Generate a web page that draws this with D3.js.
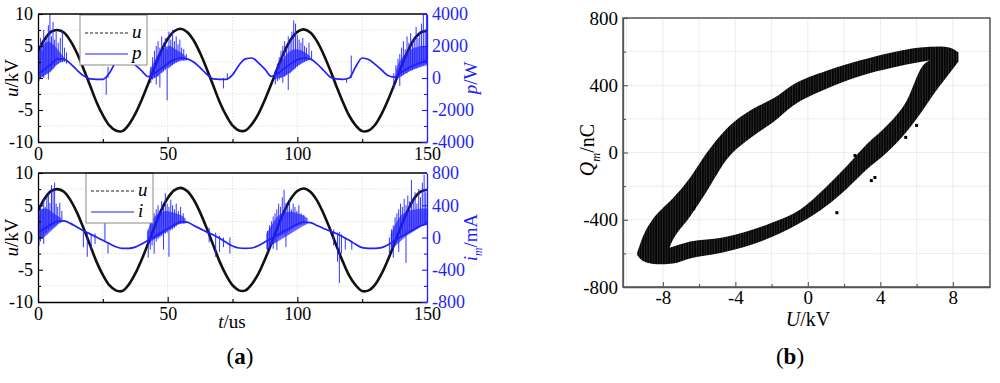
<!DOCTYPE html>
<html>
<head>
<meta charset="utf-8">
<script src="https://cdn.jsdelivr.net/npm/d3@7"></script>
<style>
  body { margin: 0; background: #fff; }
  text { font-family: "Liberation Serif", "Times New Roman", serif; }
</style>
</head>
<body>
<svg id="fig" width="1000" height="383"></svg>
<script>
// ---------- values ----------

// sample times for the traces of panel (a), us
var tSample = [0,2.5,5,7.5,10,12.5,15,17.5,20,22.5,25,27.5,30,32.5,35,37.5,40,42.5,45,47.5,50,52.5,55,57.5,60,62.5,65,67.5,70,72.5,75,77.5,80,82.5,85,87.5,90,92.5,95,97.5,100,102.5,105,107.5,110,112.5,115,117.5,120,122.5,125,127.5,130,132.5,135,137.5,140,142.5,145,147.5,150];

// applied voltage u, kV (same trace in both halves of (a))
var uVolt = [4.1,6.0,7.2,7.5,7.1,5.8,3.9,1.5,-1.1,-3.7,-5.8,-7.4,-8.2,-8.3,-7.3,-5.6,-3.4,-0.9,1.7,
             4.2,6.1,7.3,7.7,7.2,5.9,3.9,1.5,-1.1,-3.7,-5.8,-7.4,-8.2,-8.2,-7.2,-5.6,-3.4,-0.9,1.7,
             4.1,6.0,7.2,7.6,7.1,5.8,3.8,1.4,-1.2,-3.7,-5.9,-7.4,-8.3,-8.2,-7.3,-5.6,-3.4,-0.9,1.7,
             4.1,6.0,7.1,7.4];

// power p, W (smooth part)
var pPower = [250,550,850,1200,1180,900,500,150,-50,-80,-80,300,1000,1250,1100,800,450,80,
              300,600,900,1150,1250,1200,1000,650,250,-50,-80,-80,200,800,1200,1250,950,550,100,
              300,600,900,1150,1250,1200,900,500,80,-60,-80,0,700,1250,1150,850,500,150,50,
              350,600,800,950,1100];

// discharge current i_m, mA (smooth part)
var iCurrent = [60,110,160,200,205,175,130,85,45,5,-35,-75,-115,-135,-135,-120,-80,-35,
                10,60,110,155,195,190,150,110,70,35,-10,-60,-105,-130,-135,-130,-100,-55,-10,
                35,80,125,165,190,185,150,115,80,50,10,-35,-85,-125,-135,-135,-125,-90,-40,
                10,55,100,145,170];

// dense discharge "fuzz" envelopes [t, low, high]; null splits the bursts
var fuzzP = [[0,-100,1500],[1,0,1900],[2,100,2100],[3,200,2200],[4,300,2300],[5,400,2200],[6,600,2100],[7,800,1900],[8,900,1700],[9,1000,1500],[10,1050,1300],
  null,[43,-100,400],[44,-50,800],[45,0,1100],[46,100,1400],[47,250,1600],[48,400,1800],[49,550,1900],[50,650,2000],[51,750,2000],[52,850,1900],[53,950,1800],[54,1050,1700],[55,1100,1600],[56,1100,1500],[57,1100,1350],
  null,[91,-100,300],[92,-50,600],[93,0,900],[94,50,1100],[95,100,1300],[96,200,1500],[97,300,1650],[98,450,1750],[99,600,1800],[100,750,1800],[101,850,1750],[102,950,1700],[103,1050,1600],[104,1100,1500],[105,1150,1350],
  null,[138,-100,500],[139,0,900],[140,100,1200],[141,200,1400],[142,300,1600],[143,400,1700],[144,450,1800],[145,550,1900],[146,600,1900],[147,650,2000],[148,700,2000],[149,750,2000],[150,800,2000]];

var fuzzI = [[0,-40,330],[1,-20,350],[2,0,360],[3,20,360],[4,50,350],[5,80,330],[6,110,300],[7,140,280],[8,170,260],[9,190,240],
  null,[42,-60,60],[43,-50,150],[44,-40,220],[45,-20,260],[46,0,290],[47,20,310],[48,40,320],[49,60,330],[50,80,330],[51,100,320],[52,120,310],[53,140,300],[54,160,290],[55,170,280],[56,175,260],[57,175,230],
  null,[88,-150,50],[90,-100,150],[92,-60,250],[94,-20,300],[96,20,320],[98,60,320],[100,100,300],[102,140,280],[104,170,240],
  null,[136,-150,40],[138,-100,180],[140,-40,280],[142,20,320],[144,60,340],[146,100,350],[148,140,360],[150,160,360]];

// single discharge spikes [t, low end, high end]
var spikesP = [[0.4,-200,1800],[1.0,0,2500],[1.6,100,1700],[2.2,0,3000],[2.8,200,2300],[3.4,300,2700],[4.0,-100,3300],[4.6,400,4000],[5.2,500,2600],[5.8,600,3500],[6.4,700,2400],[7.0,800,2900],[7.8,900,2200],[8.6,1000,2500],[9.4,1000,3000],[10.2,1000,1900],[11.0,900,1600],
  [26.3,-1050,100],[27.0,0,700],
  [43.5,-300,700],[44.2,-100,1300],[44.9,0,1700],[45.6,-400,2000],[46.3,100,2300],[47.0,-600,1900],[47.7,300,2600],[48.4,400,2200],[49.1,500,2500],[49.8,-1400,1800],[50.5,600,2900],[51.2,700,2400],[51.9,800,3000],[52.6,900,2300],[53.3,950,2600],[54.0,1000,2100],[54.7,1050,2400],[55.4,1100,1900],[56.2,1100,1800],[57.2,1100,1500],
  [71.5,-650,0],[73.0,-50,300],
  [91.5,-400,500],[92.3,-200,900],[93.0,-100,1300],[93.7,0,1700],[94.4,-300,2000],[95.1,100,2300],[95.8,200,1900],[96.5,-750,2600],[97.2,300,2400],[97.9,400,2900],[98.6,500,3600],[99.3,600,3400],[100.0,700,2700],[100.7,800,2400],[101.4,900,2200],[102.1,950,2500],[102.8,1000,2000],[103.5,1050,1900],[104.5,1100,2200],[105.5,1100,1700],
  [119.0,-300,0],[120.8,0,1400],
  [137.2,-700,300],[138.0,-300,800],[138.8,0,1200],[139.5,-500,1500],[140.2,100,1900],[140.9,200,2300],[141.6,300,1800],[142.3,300,2600],[143.0,400,2200],[143.7,500,2800],[144.4,500,2400],[145.1,600,2600],[145.8,600,3200],[146.5,700,2500],[147.2,700,2900],[147.9,800,3400],[148.6,800,4000],[149.3,900,3000],[149.8,900,4000]];

var spikesI = [[0.4,-100,300],[1.0,-50,420],[1.6,0,350],[2.2,-80,480],[2.8,50,380],[3.4,60,520],[4.0,80,550],[4.6,100,430],[5.2,110,650],[5.8,130,600],[6.4,140,680],[7.0,150,420],[7.6,170,380],[8.4,180,430],[9.2,190,330],
  [17.5,-120,80],[19.0,-240,60],[20.5,-150,40],[22.0,-80,50],[25.8,-40,180],[27.0,-200,-60],
  [42.5,-250,100],[43.3,-150,200],[44.0,-100,260],[44.8,-200,300],[45.6,-50,350],[46.3,-20,400],[47.0,0,330],[47.7,20,450],[48.4,-150,380],[49.1,50,550],[49.8,60,420],[50.5,-240,380],[51.2,90,470],[51.9,100,400],[52.6,120,350],[53.3,140,420],[54.1,160,330],[55.0,170,380],[56.0,175,300],
  [66.0,-60,120],[68.5,-240,60],[70.0,-180,20],[71.5,-120,0],[74.0,-200,0],
  [88.5,-180,80],[89.3,-160,150],[90.0,-100,200],[90.7,-140,260],[91.4,-60,300],[92.1,-155,350],[92.8,0,420],[93.5,20,380],[94.2,30,500],[94.9,40,590],[95.6,-120,430],[96.3,60,400],[97.0,80,480],[97.7,100,350],[98.4,110,420],[99.1,130,380],[99.8,140,330],[100.6,150,400],[101.5,160,300],[102.5,170,280],
  [114.0,-100,100],[115.5,-300,60],[116.2,-565,70],[117.0,-200,40],[118.5,-150,0],[121.0,-150,-40],
  [135.5,-200,0],[136.3,-120,100],[137.0,-250,150],[137.7,-80,250],[138.4,-50,300],[139.1,-180,350],[139.8,0,420],[140.5,20,380],[141.2,40,480],[141.9,-315,400],[142.6,60,520],[143.3,80,450],[144.0,90,715],[144.7,100,480],[145.4,110,560],[146.1,120,420],[146.8,130,600],[147.5,140,500],[148.2,150,680],[148.9,160,775],[149.5,160,560]];

// panel (a) axis ticks
var tTicks = [0, 50, 100, 150];
var tMinor = [25, 75, 125];
var uTicks = [-10, -5, 0, 5, 10];
var uMinor = [-7.5, -2.5, 2.5, 7.5];
var pTicks = [-4000, -2000, 0, 2000, 4000];
var pMinor = [-3000, -1000, 1000, 3000];
var iTicks = [-800, -400, 0, 400, 800];
var iMinor = [-600, -200, 200, 600];

// panel (b): Q-U loop bands, [U kV, Q upper edge nC, Q lower edge nC]
var loopUpU   = [-9.4, -9.1, -8.55, -8.0, -7.45, -6.5, -5.6, -4.5, -3.0, -1.9, -0.8, 1.0, 2.9, 4.7, 6.2, 7.3, 7.8, 8.3];
var loopUpTop = [-590, -500, -395, -330, -272, -150, -5, 140, 262, 322, 405, 485, 548, 597, 625, 630, 625, 597];
var loopUpBot = [-612, -645, -660, -645, -520, -380, -235, -45, 100, 182, 280, 378, 455, 505, 538, 555, 550, 540];
var loopDnU   = [-9.4, -9.1, -8.3, -7.45, -6.5, -4.7, -1.93, -0.44, 1.05, 2.15, 3.26, 4.36, 5.46, 6.3, 6.9, 7.67, 8.3];
var loopDnTop = [-590, -560, -580, -560, -530, -505, -415, -340, -200, -80, 50, 160, 310, 510, 560, 600, 595];
var loopDnBot = [-610, -640, -665, -660, -630, -595, -500, -420, -315, -215, -100, 0, 125, 245, 340, 450, 540];
// stray points
var strayU = [-6.3, 2.6, 3.7, 1.6, 6.0, 5.4, 3.5];
var strayQ = [-334, -18, -149, -358, 161, 90, -167];
var uBTicks = [-8, -4, 0, 4, 8];
var uBMinor = [-6, -2, 2, 6];
var qTicks = [-800, -400, 0, 400, 800];
var qMinor = [-600, -200, 200, 600];
var uBGrid = [-10, -8, -6, -4, -2, 0, 2, 4, 6, 8, 10];
var qGrid = [-800, -600, -400, -200, 0, 200, 400, 600, 800];

// ---------- drawing ----------
var svg = d3.select("#fig");
var BLUE = "#1f1fff";
var SERIF = '"Liberation Serif","Times New Roman",serif';
var defs = svg.append("defs");

// vertical stripes like the dense scatter bars of (b)
var pat = defs.append("pattern").attr("id", "stripes")
  .attr("patternUnits", "userSpaceOnUse").attr("width", 2.6).attr("height", 10);
pat.append("rect").attr("width", 2.6).attr("height", 10).attr("fill", "#050505");
pat.append("rect").attr("x", 1.9).attr("width", 0.5).attr("height", 10).attr("fill", "#4a4a4a");

function fmt(d) { return String(d); }

function label(x, y, rot, size, parts, color, anchor) {
  var t = svg.append("text")
    .attr("transform", "translate(" + x + "," + y + ")" + (rot ? " rotate(" + rot + ")" : ""))
    .attr("text-anchor", anchor || "middle")
    .attr("font-size", size)
    .attr("fill", color || "#000");
  parts.forEach(function(p) {
    var s = t.append("tspan").text(p.t);
    if (p.i) s.attr("font-style", "italic");
    if (p.b) s.attr("font-weight", "bold");
    if (p.sub) s.attr("font-size", size * 0.62).attr("dy", size * 0.28);
    if (p.back) s.attr("dy", -size * 0.28);
  });
  return t;
}

function styleAxis(a, size, color) {
  a.attr("font-size", size).attr("font-family", SERIF);
  a.selectAll("path.domain").attr("stroke", color).attr("stroke-width", 1.3);
  a.selectAll(".tick line").attr("stroke", color).attr("stroke-width", 1.1);
  a.selectAll(".tick text").attr("fill", color);
}

var xA = d3.scaleLinear().domain([0, 150]).range([38, 427]);

function panelA(cfg) {
  var yL = d3.scaleLinear().domain([-10, 10]).range([cfg.bottom, cfg.top]);
  var yR = d3.scaleLinear().domain(cfg.rDomain).range([cfg.bottom, cfg.top]);
  var g = svg.append("g");

  defs.append("clipPath").attr("id", cfg.id).append("rect")
    .attr("x", xA(0)).attr("y", cfg.top)
    .attr("width", xA(150) - xA(0)).attr("height", cfg.bottom - cfg.top);

  // faint dotted grid
  var grid = g.append("g").attr("stroke", "#cfe6cf").attr("stroke-width", 0.8).attr("stroke-dasharray", "1.5,1.5");
  grid.selectAll("line.v").data(tMinor.concat([50, 100])).join("line").attr("class", "v")
    .attr("x1", d => xA(d)).attr("x2", d => xA(d)).attr("y1", cfg.top).attr("y2", cfg.bottom);
  grid.selectAll("line.h").data(uMinor).join("line").attr("class", "h")
    .attr("x1", xA(0)).attr("x2", xA(150)).attr("y1", d => yL(d)).attr("y2", d => yL(d));

  var plot = g.append("g").attr("clip-path", "url(#" + cfg.id + ")");

  // voltage trace
  plot.append("path")
    .datum(tSample.map((t, k) => [t, uVolt[k]]))
    .attr("fill", "none").attr("stroke", "#111").attr("stroke-width", 2.6)
    .attr("d", d3.line().x(d => xA(d[0])).y(d => yL(d[1])).curve(d3.curveCatmullRom));

  // discharge bursts
  plot.append("path")
    .datum(cfg.fuzz)
    .attr("fill", BLUE).attr("fill-opacity", 0.68)
    .attr("d", d3.area().defined(d => d).x(d => xA(d[0])).y0(d => yR(d[1])).y1(d => yR(d[2])));

  // smooth blue trace
  plot.append("path")
    .datum(tSample.map((t, k) => [t, cfg.values[k]]))
    .attr("fill", "none").attr("stroke", BLUE).attr("stroke-width", 1.7)
    .attr("d", d3.line().x(d => xA(d[0])).y(d => yR(d[1])).curve(d3.curveMonotoneX));

  plot.selectAll("line.spike").data(cfg.spikes).join("line").attr("class", "spike")
    .attr("x1", d => xA(d[0])).attr("x2", d => xA(d[0]))
    .attr("y1", d => yR(d[1])).attr("y2", d => yR(d[2]))
    .attr("stroke", BLUE).attr("stroke-width", 0.9);

  // legend
  var lg = g.append("g").attr("transform", "translate(" + cfg.legend[0] + "," + cfg.legend[1] + ")");
  lg.append("rect").attr("width", 67).attr("height", 50).attr("fill", "#fff").attr("stroke", "#8a8a8a");
  lg.append("line").attr("x1", 5).attr("x2", 48).attr("y1", 18).attr("y2", 18)
    .attr("stroke", "#222").attr("stroke-width", 1.2).attr("stroke-dasharray", "3,2");
  lg.append("text").attr("x", 52).attr("y", 23).attr("font-size", 19).attr("font-style", "italic").text("u");
  lg.append("line").attr("x1", 5).attr("x2", 48).attr("y1", 39).attr("y2", 39)
    .attr("stroke", BLUE).attr("stroke-width", 1.2);
  lg.append("text").attr("x", 52).attr("y", 44).attr("font-size", 19).attr("font-style", "italic").text(cfg.key);

  // axes
  var aL = g.append("g").attr("transform", "translate(" + xA(0) + ",0)")
    .call(d3.axisLeft(yL).tickValues(uTicks).tickSize(-5).tickSizeOuter(0).tickPadding(5).tickFormat(fmt));
  styleAxis(aL, 18, "#000");
  var aLm = g.append("g").attr("transform", "translate(" + xA(0) + ",0)")
    .call(d3.axisLeft(yL).tickValues(uMinor).tickSize(-3).tickFormat(""));
  aLm.select(".domain").remove();
  styleAxis(aLm, 18, "#000");

  var aB = g.append("g").attr("transform", "translate(0," + cfg.bottom + ")")
    .call(d3.axisBottom(xA).tickValues(tTicks).tickSize(-5).tickSizeOuter(0).tickPadding(5).tickFormat(fmt));
  styleAxis(aB, 18, "#000");
  var aBm = g.append("g").attr("transform", "translate(0," + cfg.bottom + ")")
    .call(d3.axisBottom(xA).tickValues(tMinor).tickSize(-3).tickFormat(""));
  aBm.select(".domain").remove();
  styleAxis(aBm, 18, "#000");

  g.append("line").attr("x1", xA(0)).attr("x2", xA(150)).attr("y1", cfg.top).attr("y2", cfg.top)
    .attr("stroke", "#000").attr("stroke-width", 1.3);

  var aR = g.append("g").attr("transform", "translate(" + xA(150) + ",0)")
    .call(d3.axisRight(yR).tickValues(cfg.rTicks).tickSize(-5).tickSizeOuter(0).tickPadding(5).tickFormat(fmt));
  styleAxis(aR, 18, BLUE);
  var aRm = g.append("g").attr("transform", "translate(" + xA(150) + ",0)")
    .call(d3.axisRight(yR).tickValues(cfg.rMinor).tickSize(-3).tickFormat(""));
  aRm.select(".domain").remove();
  styleAxis(aRm, 18, BLUE);

  var mid = (cfg.top + cfg.bottom) / 2;
  label(18, mid, -90, 19, [{t: "u", i: true}, {t: "/kV"}]);
  label(477, mid, -90, 19, cfg.rLabel, BLUE);
}

panelA({
  id: "clipTop", top: 14, bottom: 142,
  rDomain: [-4000, 4000], rTicks: pTicks, rMinor: pMinor,
  values: pPower, fuzz: fuzzP, spikes: spikesP,
  legend: [80, 15], key: "p",
  rLabel: [{t: "p", i: true}, {t: "/W"}]
});

panelA({
  id: "clipBot", top: 173, bottom: 302,
  rDomain: [-800, 800], rTicks: iTicks, rMinor: iMinor,
  values: iCurrent, fuzz: fuzzI, spikes: spikesI,
  legend: [86, 173], key: "i",
  rLabel: [{t: "i", i: true}, {t: "m", i: true, sub: true}, {t: "/mA", back: true}]
});

label(232, 328, 0, 19, [{t: "t", i: true}, {t: "/us"}]);
label(240, 364, 0, 23, [{t: "("}, {t: "a", b: true}, {t: ")"}]);

// ---------- panel (b) ----------
var xB = d3.scaleLinear().domain([-10.2, 10.05]).range([623, 990]);
var yB = d3.scaleLinear().domain([-800, 800]).range([287, 18]);
var gb = svg.append("g");

var gridB = gb.append("g").attr("stroke", "#e3ebe3").attr("stroke-width", 0.8);
gridB.selectAll("line.v").data(uBGrid).join("line").attr("class", "v")
  .attr("x1", d => xB(d)).attr("x2", d => xB(d)).attr("y1", yB(800)).attr("y2", yB(-800));
gridB.selectAll("line.h").data(qGrid).join("line").attr("class", "h")
  .attr("x1", xB.range()[0]).attr("x2", xB.range()[1]).attr("y1", d => yB(d)).attr("y2", d => yB(d));

var band = d3.area().x(d => xB(d[0])).y0(d => yB(d[2])).y1(d => yB(d[1])).curve(d3.curveMonotoneX);
gb.append("path").datum(loopUpU.map((u, k) => [u, loopUpTop[k], loopUpBot[k]]))
  .attr("fill", "url(#stripes)").attr("d", band);
gb.append("path").datum(loopDnU.map((u, k) => [u, loopDnTop[k], loopDnBot[k]]))
  .attr("fill", "url(#stripes)").attr("d", band);
gb.selectAll("rect.stray").data(strayU.map((u, k) => [u, strayQ[k]])).join("rect").attr("class", "stray")
  .attr("x", d => xB(d[0]) - 1.5).attr("y", d => yB(d[1]) - 1.5)
  .attr("width", 3).attr("height", 3).attr("fill", "#000");

gb.append("rect").attr("x", xB.range()[0]).attr("y", yB(800))
  .attr("width", xB.range()[1] - xB.range()[0]).attr("height", yB(-800) - yB(800))
  .attr("fill", "none").attr("stroke", "#555").attr("stroke-width", 1.5);

var bx = gb.append("g").attr("transform", "translate(0," + yB(-800) + ")")
  .call(d3.axisBottom(xB).tickValues(uBTicks).tickSize(-5).tickSizeOuter(0).tickPadding(4).tickFormat(fmt));
styleAxis(bx, 19, "#555");
bx.selectAll(".tick text").attr("fill", "#000");
var bxm = gb.append("g").attr("transform", "translate(0," + yB(-800) + ")")
  .call(d3.axisBottom(xB).tickValues(uBMinor).tickSize(-3).tickFormat(""));
bxm.select(".domain").remove();
styleAxis(bxm, 19, "#555");

var by = gb.append("g").attr("transform", "translate(" + xB.range()[0] + ",0)")
  .call(d3.axisLeft(yB).tickValues(qTicks).tickSize(-5).tickSizeOuter(0).tickPadding(5).tickFormat(fmt));
styleAxis(by, 19, "#555");
by.selectAll(".tick text").attr("fill", "#000");
var bym = gb.append("g").attr("transform", "translate(" + xB.range()[0] + ",0)")
  .call(d3.axisLeft(yB).tickValues(qMinor).tickSize(-3).tickFormat(""));
bym.select(".domain").remove();
styleAxis(bym, 19, "#555");

label(594, 150, -90, 20, [{t: "Q", i: true}, {t: "m", i: true, sub: true}, {t: "/nC", back: true}]);
label(808, 326, 0, 20, [{t: "U", i: true}, {t: "/kV"}]);
label(790, 364, 0, 23, [{t: "("}, {t: "b", b: true}, {t: ")"}]);
</script>
</body>
</html>
